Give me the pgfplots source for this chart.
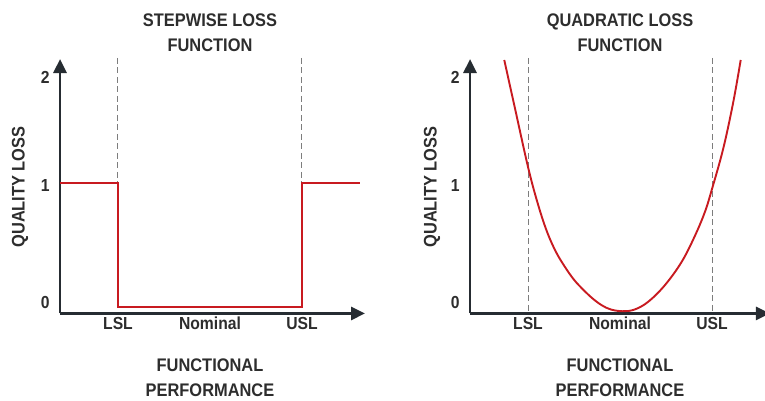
\documentclass[border=0pt]{standalone}
\usepackage{pgfplots}
\pgfplotsset{compat=1.18}
\usetikzlibrary{arrows.meta}
\usepackage{fontspec}
\setmainfont{Liberation Sans}[FakeStretch=0.9]
\definecolor{axcol}{RGB}{38,44,50}
\definecolor{txt}{RGB}{45,45,45}
\definecolor{lossred}{RGB}{200,26,32}
\definecolor{dashcol}{RGB}{125,125,125}
\newcommand{\lab}{\fontsize{18.3}{25}\selectfont\bfseries}
\begin{document}
\begin{tikzpicture}
\useasboundingbox (-210bp,-94bp) rectangle (555bp,307bp);
\pgfplotsset{
 lossaxis/.style={
  x=92bp, y=124bp,
  anchor=south west,
  axis lines=left,
  axis line style={line width=2.9bp, draw=axcol, -{Triangle[length=14bp,width=13bp]}},
  ymin=-0.052, ymax=2.0, xmin=-1.63,
  xtick={-1,0,1}, xticklabels={LSL,Nominal,USL},
  ytick={0.04,0.98,1.85}, yticklabels={0,1,2},
  major tick length=0pt,
  tick label style={font=\fontsize{17.5}{20}\selectfont\bfseries, text=txt},
  yticklabel style={xshift=-7bp},
  /pgf/number format/assume math mode=true,
  clip=false,
 }
}
% left panel
\begin{axis}[lossaxis, at={(-149.96bp,-6.45bp)}, xmax=1.685]
\addplot[dashcol, line width=1bp, dash pattern=on 6bp off 3.5bp] coordinates {(-1,2.01) (-1,1)};
\addplot[dashcol, line width=1bp, dash pattern=on 6bp off 3.5bp] coordinates {(1,2.01) (1,1)};
\addplot[lossred, line width=2.8bp] coordinates {(-1.63,1) (-1,1) (-1,0) (1,0) (1,1) (1.63,1)};
\node[align=center, font=\lab, text=txt] at (axis cs:0,2.214) {STEPWISE LOSS\\FUNCTION};
\node[align=center, font=\lab, text=txt] at (axis cs:0,-0.573) {FUNCTIONAL\\PERFORMANCE};
\node[rotate=90, font=\lab, text=txt] at (axis cs:-2.065,0.968) {QUALITY LOSS};
\end{axis}
% right panel
\begin{axis}[lossaxis, at={(260.04bp,-6.45bp)}, xmax=1.63]
\addplot[dashcol, line width=1bp, dash pattern=on 6bp off 3.5bp] coordinates {(-1,2.01) (-1,-0.052)};
\addplot[dashcol, line width=1bp, dash pattern=on 6bp off 3.5bp] coordinates {(1,2.01) (1,-0.052)};
\addplot[lossred, line width=1.9bp, smooth, tension=0.6] coordinates {
(-1.258,1.992) (-1.141,1.60) (-1.0,1.13) (-0.9,0.85) (-0.8,0.62) (-0.7,0.45)
(-0.6,0.325) (-0.5,0.22) (-0.4,0.14) (-0.3,0.07) (-0.2,0.015) (-0.1,-0.02)
(0.03,-0.034) (0.16,-0.02) (0.308,0.043) (0.489,0.177) (0.671,0.365) (0.815,0.575)
(0.924,0.769) (0.997,0.944) (1.123,1.280) (1.232,1.656) (1.312,1.992)};
\node[align=center, font=\lab, text=txt] at (axis cs:0,2.214) {QUADRATIC LOSS\\FUNCTION};
\node[align=center, font=\lab, text=txt] at (axis cs:0,-0.573) {FUNCTIONAL\\PERFORMANCE};
\node[rotate=90, font=\lab, text=txt] at (axis cs:-2.043,0.968) {QUALITY LOSS};
\end{axis}
\end{tikzpicture}
\end{document}
